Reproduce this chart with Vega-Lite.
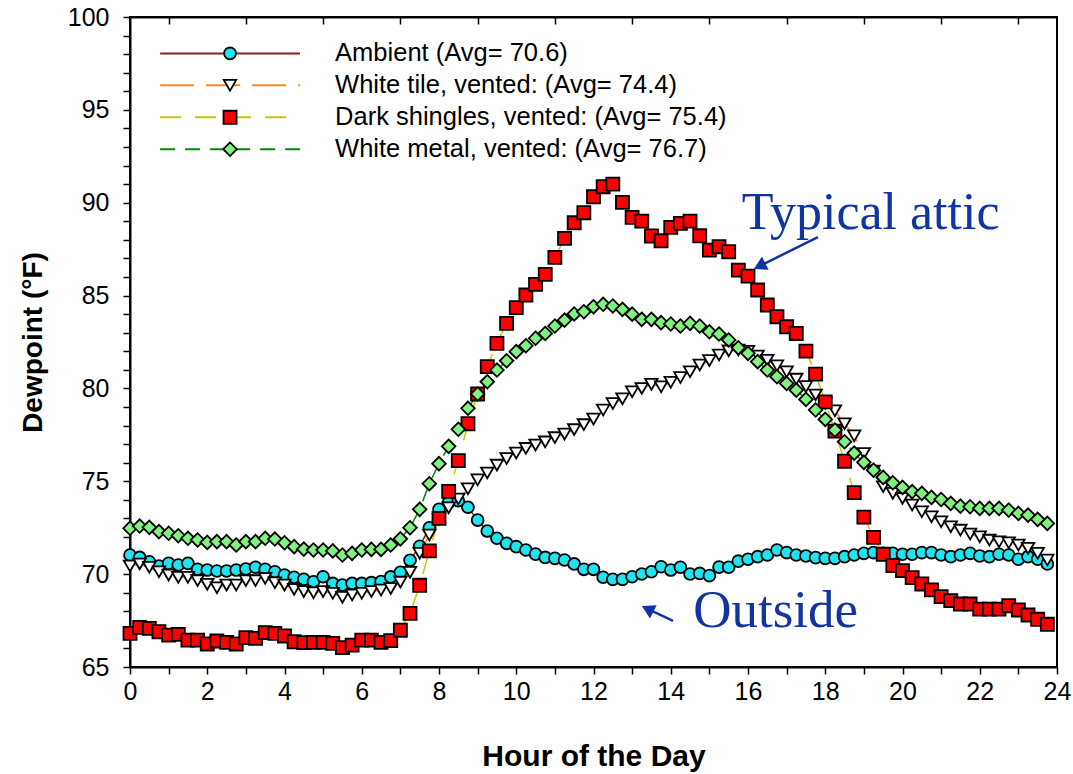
{
  "$schema": "https://vega.github.io/schema/vega-lite/v6.json",
  "autosize": "none",
  "width": 927,
  "height": 650,
  "padding": {"left": 130, "top": 17, "right": 16, "bottom": 107},
  "background": "white",
  "config": {"view": {"stroke": "black", "strokeWidth": 2}, "font": "Liberation Sans"},
  "resolve": {"axis": {"x": "independent", "y": "independent"}},
  "datasets": {
    "legend": [
      {"series": "Ambient", "label": "Ambient (Avg= 70.6)", "dewpoint": 98.04},
      {"series": "White tile", "label": "White tile, vented: (Avg= 74.4)", "dewpoint": 96.32},
      {"series": "Dark shingles", "label": "Dark shingles, vented: (Avg= 75.4)", "dewpoint": 94.6},
      {"series": "White metal", "label": "White metal, vented: (Avg= 76.7)", "dewpoint": 92.88}
    ],
    "dew": [
{"series":"Ambient","hour":0,"dewpoint":71.03},{"series":"Ambient","hour":0.25,"dewpoint":70.90},{"series":"Ambient","hour":0.5,"dewpoint":70.67},{"series":"Ambient","hour":0.75,"dewpoint":70.44},
{"series":"Ambient","hour":1,"dewpoint":70.58},{"series":"Ambient","hour":1.25,"dewpoint":70.49},{"series":"Ambient","hour":1.5,"dewpoint":70.58},{"series":"Ambient","hour":1.75,"dewpoint":70.26},
{"series":"Ambient","hour":2,"dewpoint":70.22},{"series":"Ambient","hour":2.25,"dewpoint":70.17},{"series":"Ambient","hour":2.5,"dewpoint":70.17},{"series":"Ambient","hour":2.75,"dewpoint":70.22},
{"series":"Ambient","hour":3,"dewpoint":70.28},{"series":"Ambient","hour":3.25,"dewpoint":70.37},{"series":"Ambient","hour":3.5,"dewpoint":70.26},{"series":"Ambient","hour":3.75,"dewpoint":70.13},
{"series":"Ambient","hour":4,"dewpoint":69.95},{"series":"Ambient","hour":4.25,"dewpoint":69.83},{"series":"Ambient","hour":4.5,"dewpoint":69.72},{"series":"Ambient","hour":4.75,"dewpoint":69.59},
{"series":"Ambient","hour":5,"dewpoint":69.86},{"series":"Ambient","hour":5.25,"dewpoint":69.50},{"series":"Ambient","hour":5.5,"dewpoint":69.41},{"series":"Ambient","hour":5.75,"dewpoint":69.50},
{"series":"Ambient","hour":6,"dewpoint":69.50},{"series":"Ambient","hour":6.25,"dewpoint":69.54},{"series":"Ambient","hour":6.5,"dewpoint":69.60},{"series":"Ambient","hour":6.75,"dewpoint":69.85},
{"series":"Ambient","hour":7,"dewpoint":70.10},{"series":"Ambient","hour":7.25,"dewpoint":70.75},{"series":"Ambient","hour":7.5,"dewpoint":71.50},{"series":"Ambient","hour":7.75,"dewpoint":72.50},
{"series":"Ambient","hour":8,"dewpoint":73.49},{"series":"Ambient","hour":8.25,"dewpoint":73.85},{"series":"Ambient","hour":8.5,"dewpoint":73.95},{"series":"Ambient","hour":8.75,"dewpoint":73.60},
{"series":"Ambient","hour":9,"dewpoint":72.91},{"series":"Ambient","hour":9.25,"dewpoint":72.32},{"series":"Ambient","hour":9.5,"dewpoint":71.93},{"series":"Ambient","hour":9.75,"dewpoint":71.66},
{"series":"Ambient","hour":10,"dewpoint":71.48},{"series":"Ambient","hour":10.25,"dewpoint":71.30},{"series":"Ambient","hour":10.5,"dewpoint":71.08},{"series":"Ambient","hour":10.75,"dewpoint":70.90},
{"series":"Ambient","hour":11,"dewpoint":70.85},{"series":"Ambient","hour":11.25,"dewpoint":70.76},{"series":"Ambient","hour":11.5,"dewpoint":70.55},{"series":"Ambient","hour":11.75,"dewpoint":70.26},
{"series":"Ambient","hour":12,"dewpoint":70.26},{"series":"Ambient","hour":12.25,"dewpoint":69.83},{"series":"Ambient","hour":12.5,"dewpoint":69.72},{"series":"Ambient","hour":12.75,"dewpoint":69.72},
{"series":"Ambient","hour":13,"dewpoint":69.86},{"series":"Ambient","hour":13.25,"dewpoint":70.01},{"series":"Ambient","hour":13.5,"dewpoint":70.13},{"series":"Ambient","hour":13.75,"dewpoint":70.40},
{"series":"Ambient","hour":14,"dewpoint":70.22},{"series":"Ambient","hour":14.25,"dewpoint":70.37},{"series":"Ambient","hour":14.5,"dewpoint":70.01},{"series":"Ambient","hour":14.75,"dewpoint":70.04},
{"series":"Ambient","hour":15,"dewpoint":69.92},{"series":"Ambient","hour":15.25,"dewpoint":70.38},{"series":"Ambient","hour":15.5,"dewpoint":70.37},{"series":"Ambient","hour":15.75,"dewpoint":70.70},
{"series":"Ambient","hour":16,"dewpoint":70.80},{"series":"Ambient","hour":16.25,"dewpoint":70.94},{"series":"Ambient","hour":16.5,"dewpoint":71.03},{"series":"Ambient","hour":16.75,"dewpoint":71.30},
{"series":"Ambient","hour":17,"dewpoint":71.16},{"series":"Ambient","hour":17.25,"dewpoint":71.03},{"series":"Ambient","hour":17.5,"dewpoint":70.98},{"series":"Ambient","hour":17.75,"dewpoint":70.89},
{"series":"Ambient","hour":18,"dewpoint":70.85},{"series":"Ambient","hour":18.25,"dewpoint":70.85},{"series":"Ambient","hour":18.5,"dewpoint":70.94},{"series":"Ambient","hour":18.75,"dewpoint":71.03},
{"series":"Ambient","hour":19,"dewpoint":71.12},{"series":"Ambient","hour":19.25,"dewpoint":71.16},{"series":"Ambient","hour":19.5,"dewpoint":71.12},{"series":"Ambient","hour":19.75,"dewpoint":71.12},
{"series":"Ambient","hour":20,"dewpoint":71.07},{"series":"Ambient","hour":20.25,"dewpoint":71.07},{"series":"Ambient","hour":20.5,"dewpoint":71.16},{"series":"Ambient","hour":20.75,"dewpoint":71.16},
{"series":"Ambient","hour":21,"dewpoint":71.03},{"series":"Ambient","hour":21.25,"dewpoint":70.94},{"series":"Ambient","hour":21.5,"dewpoint":71.03},{"series":"Ambient","hour":21.75,"dewpoint":71.12},
{"series":"Ambient","hour":22,"dewpoint":70.98},{"series":"Ambient","hour":22.25,"dewpoint":70.94},{"series":"Ambient","hour":22.5,"dewpoint":71.07},{"series":"Ambient","hour":22.75,"dewpoint":71.03},
{"series":"Ambient","hour":23,"dewpoint":70.80},{"series":"Ambient","hour":23.25,"dewpoint":70.94},{"series":"Ambient","hour":23.5,"dewpoint":70.80},{"series":"Ambient","hour":23.75,"dewpoint":70.55},
{"series":"White tile","hour":0,"dewpoint":70.44},{"series":"White tile","hour":0.25,"dewpoint":70.55},{"series":"White tile","hour":0.5,"dewpoint":70.37},{"series":"White tile","hour":0.75,"dewpoint":70.13},
{"series":"White tile","hour":1,"dewpoint":69.95},{"series":"White tile","hour":1.25,"dewpoint":69.83},{"series":"White tile","hour":1.5,"dewpoint":69.83},{"series":"White tile","hour":1.75,"dewpoint":69.65},
{"series":"White tile","hour":2,"dewpoint":69.45},{"series":"White tile","hour":2.25,"dewpoint":69.27},{"series":"White tile","hour":2.5,"dewpoint":69.41},{"series":"White tile","hour":2.75,"dewpoint":69.41},
{"series":"White tile","hour":3,"dewpoint":69.65},{"series":"White tile","hour":3.25,"dewpoint":69.65},{"series":"White tile","hour":3.5,"dewpoint":69.77},{"series":"White tile","hour":3.75,"dewpoint":69.54},
{"series":"White tile","hour":4,"dewpoint":69.41},{"series":"White tile","hour":4.25,"dewpoint":69.18},{"series":"White tile","hour":4.5,"dewpoint":69.06},{"series":"White tile","hour":4.75,"dewpoint":69.00},
{"series":"White tile","hour":5,"dewpoint":69.06},{"series":"White tile","hour":5.25,"dewpoint":68.97},{"series":"White tile","hour":5.5,"dewpoint":68.75},{"series":"White tile","hour":5.75,"dewpoint":68.88},
{"series":"White tile","hour":6,"dewpoint":68.97},{"series":"White tile","hour":6.25,"dewpoint":69.06},{"series":"White tile","hour":6.5,"dewpoint":69.14},{"series":"White tile","hour":6.75,"dewpoint":69.23},
{"series":"White tile","hour":7,"dewpoint":69.57},{"series":"White tile","hour":7.25,"dewpoint":70.10},{"series":"White tile","hour":7.5,"dewpoint":71.12},{"series":"White tile","hour":7.75,"dewpoint":72.11},
{"series":"White tile","hour":8,"dewpoint":72.95},{"series":"White tile","hour":8.25,"dewpoint":73.57},{"series":"White tile","hour":8.5,"dewpoint":74.05},{"series":"White tile","hour":8.75,"dewpoint":74.60},
{"series":"White tile","hour":9,"dewpoint":75.08},{"series":"White tile","hour":9.25,"dewpoint":75.45},{"series":"White tile","hour":9.5,"dewpoint":75.87},{"series":"White tile","hour":9.75,"dewpoint":76.23},
{"series":"White tile","hour":10,"dewpoint":76.52},{"series":"White tile","hour":10.25,"dewpoint":76.77},{"series":"White tile","hour":10.5,"dewpoint":76.95},{"series":"White tile","hour":10.75,"dewpoint":77.12},
{"series":"White tile","hour":11,"dewpoint":77.35},{"series":"White tile","hour":11.25,"dewpoint":77.54},{"series":"White tile","hour":11.5,"dewpoint":77.78},{"series":"White tile","hour":11.75,"dewpoint":78.05},
{"series":"White tile","hour":12,"dewpoint":78.35},{"series":"White tile","hour":12.25,"dewpoint":78.84},{"series":"White tile","hour":12.5,"dewpoint":79.19},{"series":"White tile","hour":12.75,"dewpoint":79.44},
{"series":"White tile","hour":13,"dewpoint":79.82},{"series":"White tile","hour":13.25,"dewpoint":80.00},{"series":"White tile","hour":13.5,"dewpoint":80.22},{"series":"White tile","hour":13.75,"dewpoint":80.09},
{"series":"White tile","hour":14,"dewpoint":80.33},{"series":"White tile","hour":14.25,"dewpoint":80.59},{"series":"White tile","hour":14.5,"dewpoint":80.90},{"series":"White tile","hour":14.75,"dewpoint":81.26},
{"series":"White tile","hour":15,"dewpoint":81.50},{"series":"White tile","hour":15.25,"dewpoint":81.80},{"series":"White tile","hour":15.5,"dewpoint":82.02},{"series":"White tile","hour":15.75,"dewpoint":82.07},
{"series":"White tile","hour":16,"dewpoint":82.00},{"series":"White tile","hour":16.25,"dewpoint":81.75},{"series":"White tile","hour":16.5,"dewpoint":81.52},{"series":"White tile","hour":16.75,"dewpoint":81.22},
{"series":"White tile","hour":17,"dewpoint":80.90},{"series":"White tile","hour":17.25,"dewpoint":80.50},{"series":"White tile","hour":17.5,"dewpoint":80.10},{"series":"White tile","hour":17.75,"dewpoint":79.65},
{"series":"White tile","hour":18,"dewpoint":79.20},{"series":"White tile","hour":18.25,"dewpoint":78.80},{"series":"White tile","hour":18.5,"dewpoint":78.10},{"series":"White tile","hour":18.75,"dewpoint":77.45},
{"series":"White tile","hour":19,"dewpoint":76.50},{"series":"White tile","hour":19.25,"dewpoint":75.55},{"series":"White tile","hour":19.5,"dewpoint":74.71},{"series":"White tile","hour":19.75,"dewpoint":74.35},
{"series":"White tile","hour":20,"dewpoint":74.08},{"series":"White tile","hour":20.25,"dewpoint":73.72},{"series":"White tile","hour":20.5,"dewpoint":73.36},{"series":"White tile","hour":20.75,"dewpoint":73.09},
{"series":"White tile","hour":21,"dewpoint":72.82},{"series":"White tile","hour":21.25,"dewpoint":72.55},{"series":"White tile","hour":21.5,"dewpoint":72.37},{"series":"White tile","hour":21.75,"dewpoint":72.16},
{"series":"White tile","hour":22,"dewpoint":72.01},{"series":"White tile","hour":22.25,"dewpoint":71.83},{"series":"White tile","hour":22.5,"dewpoint":71.74},{"series":"White tile","hour":22.75,"dewpoint":71.69},
{"series":"White tile","hour":23,"dewpoint":71.57},{"series":"White tile","hour":23.25,"dewpoint":71.39},{"series":"White tile","hour":23.5,"dewpoint":71.12},{"series":"White tile","hour":23.75,"dewpoint":70.76},
{"series":"Dark shingles","hour":0,"dewpoint":66.81},{"series":"Dark shingles","hour":0.25,"dewpoint":67.13},{"series":"Dark shingles","hour":0.5,"dewpoint":67.08},{"series":"Dark shingles","hour":0.75,"dewpoint":66.90},
{"series":"Dark shingles","hour":1,"dewpoint":66.72},{"series":"Dark shingles","hour":1.25,"dewpoint":66.76},{"series":"Dark shingles","hour":1.5,"dewpoint":66.45},{"series":"Dark shingles","hour":1.75,"dewpoint":66.45},
{"series":"Dark shingles","hour":2,"dewpoint":66.24},{"series":"Dark shingles","hour":2.25,"dewpoint":66.40},{"series":"Dark shingles","hour":2.5,"dewpoint":66.33},{"series":"Dark shingles","hour":2.75,"dewpoint":66.24},
{"series":"Dark shingles","hour":3,"dewpoint":66.58},{"series":"Dark shingles","hour":3.25,"dewpoint":66.54},{"series":"Dark shingles","hour":3.5,"dewpoint":66.85},{"series":"Dark shingles","hour":3.75,"dewpoint":66.81},
{"series":"Dark shingles","hour":4,"dewpoint":66.67},{"series":"Dark shingles","hour":4.25,"dewpoint":66.36},{"series":"Dark shingles","hour":4.5,"dewpoint":66.31},{"series":"Dark shingles","hour":4.75,"dewpoint":66.33},
{"series":"Dark shingles","hour":5,"dewpoint":66.33},{"series":"Dark shingles","hour":5.25,"dewpoint":66.27},{"series":"Dark shingles","hour":5.5,"dewpoint":66.04},{"series":"Dark shingles","hour":5.75,"dewpoint":66.18},
{"series":"Dark shingles","hour":6,"dewpoint":66.45},{"series":"Dark shingles","hour":6.25,"dewpoint":66.45},{"series":"Dark shingles","hour":6.5,"dewpoint":66.33},{"series":"Dark shingles","hour":6.75,"dewpoint":66.42},
{"series":"Dark shingles","hour":7,"dewpoint":66.98},{"series":"Dark shingles","hour":7.25,"dewpoint":67.89},{"series":"Dark shingles","hour":7.5,"dewpoint":69.40},{"series":"Dark shingles","hour":7.75,"dewpoint":71.25},
{"series":"Dark shingles","hour":8,"dewpoint":73.00},{"series":"Dark shingles","hour":8.25,"dewpoint":74.46},{"series":"Dark shingles","hour":8.5,"dewpoint":76.11},{"series":"Dark shingles","hour":8.75,"dewpoint":78.10},
{"series":"Dark shingles","hour":9,"dewpoint":79.70},{"series":"Dark shingles","hour":9.25,"dewpoint":81.17},{"series":"Dark shingles","hour":9.5,"dewpoint":82.43},{"series":"Dark shingles","hour":9.75,"dewpoint":83.50},
{"series":"Dark shingles","hour":10,"dewpoint":84.35},{"series":"Dark shingles","hour":10.25,"dewpoint":85.03},{"series":"Dark shingles","hour":10.5,"dewpoint":85.60},{"series":"Dark shingles","hour":10.75,"dewpoint":86.14},
{"series":"Dark shingles","hour":11,"dewpoint":87.06},{"series":"Dark shingles","hour":11.25,"dewpoint":88.08},{"series":"Dark shingles","hour":11.5,"dewpoint":88.92},{"series":"Dark shingles","hour":11.75,"dewpoint":89.46},
{"series":"Dark shingles","hour":12,"dewpoint":90.32},{"series":"Dark shingles","hour":12.25,"dewpoint":90.86},{"series":"Dark shingles","hour":12.5,"dewpoint":91.00},{"series":"Dark shingles","hour":12.75,"dewpoint":90.02},
{"series":"Dark shingles","hour":13,"dewpoint":89.21},{"series":"Dark shingles","hour":13.25,"dewpoint":89.01},{"series":"Dark shingles","hour":13.5,"dewpoint":88.21},{"series":"Dark shingles","hour":13.75,"dewpoint":87.95},
{"series":"Dark shingles","hour":14,"dewpoint":88.67},{"series":"Dark shingles","hour":14.25,"dewpoint":88.89},{"series":"Dark shingles","hour":14.5,"dewpoint":89.01},{"series":"Dark shingles","hour":14.75,"dewpoint":88.22},
{"series":"Dark shingles","hour":15,"dewpoint":87.45},{"series":"Dark shingles","hour":15.25,"dewpoint":87.63},{"series":"Dark shingles","hour":15.5,"dewpoint":87.36},{"series":"Dark shingles","hour":15.75,"dewpoint":86.37},
{"series":"Dark shingles","hour":16,"dewpoint":86.05},{"series":"Dark shingles","hour":16.25,"dewpoint":85.30},{"series":"Dark shingles","hour":16.5,"dewpoint":84.49},{"series":"Dark shingles","hour":16.75,"dewpoint":83.86},
{"series":"Dark shingles","hour":17,"dewpoint":83.32},{"series":"Dark shingles","hour":17.25,"dewpoint":82.96},{"series":"Dark shingles","hour":17.5,"dewpoint":82.01},{"series":"Dark shingles","hour":17.75,"dewpoint":80.77},
{"series":"Dark shingles","hour":18,"dewpoint":79.28},{"series":"Dark shingles","hour":18.25,"dewpoint":77.70},{"series":"Dark shingles","hour":18.5,"dewpoint":76.08},{"series":"Dark shingles","hour":18.75,"dewpoint":74.39},
{"series":"Dark shingles","hour":19,"dewpoint":73.07},{"series":"Dark shingles","hour":19.25,"dewpoint":71.98},{"series":"Dark shingles","hour":19.5,"dewpoint":71.07},{"series":"Dark shingles","hour":19.75,"dewpoint":70.46},
{"series":"Dark shingles","hour":20,"dewpoint":70.19},{"series":"Dark shingles","hour":20.25,"dewpoint":69.81},{"series":"Dark shingles","hour":20.5,"dewpoint":69.47},{"series":"Dark shingles","hour":20.75,"dewpoint":69.15},
{"series":"Dark shingles","hour":21,"dewpoint":68.79},{"series":"Dark shingles","hour":21.25,"dewpoint":68.57},{"series":"Dark shingles","hour":21.5,"dewpoint":68.39},{"series":"Dark shingles","hour":21.75,"dewpoint":68.39},
{"series":"Dark shingles","hour":22,"dewpoint":68.12},{"series":"Dark shingles","hour":22.25,"dewpoint":68.12},{"series":"Dark shingles","hour":22.5,"dewpoint":68.12},{"series":"Dark shingles","hour":22.75,"dewpoint":68.30},
{"series":"Dark shingles","hour":23,"dewpoint":68.07},{"series":"Dark shingles","hour":23.25,"dewpoint":67.80},{"series":"Dark shingles","hour":23.5,"dewpoint":67.57},{"series":"Dark shingles","hour":23.75,"dewpoint":67.30},
{"series":"White metal","hour":0,"dewpoint":72.47},{"series":"White metal","hour":0.25,"dewpoint":72.59},{"series":"White metal","hour":0.5,"dewpoint":72.52},{"series":"White metal","hour":0.75,"dewpoint":72.29},
{"series":"White metal","hour":1,"dewpoint":72.20},{"series":"White metal","hour":1.25,"dewpoint":72.07},{"series":"White metal","hour":1.5,"dewpoint":71.93},{"series":"White metal","hour":1.75,"dewpoint":71.84},
{"series":"White metal","hour":2,"dewpoint":71.71},{"series":"White metal","hour":2.25,"dewpoint":71.75},{"series":"White metal","hour":2.5,"dewpoint":71.75},{"series":"White metal","hour":2.75,"dewpoint":71.57},
{"series":"White metal","hour":3,"dewpoint":71.75},{"series":"White metal","hour":3.25,"dewpoint":71.75},{"series":"White metal","hour":3.5,"dewpoint":71.93},{"series":"White metal","hour":3.75,"dewpoint":71.89},
{"series":"White metal","hour":4,"dewpoint":71.69},{"series":"White metal","hour":4.25,"dewpoint":71.48},{"series":"White metal","hour":4.5,"dewpoint":71.35},{"series":"White metal","hour":4.75,"dewpoint":71.30},
{"series":"White metal","hour":5,"dewpoint":71.30},{"series":"White metal","hour":5.25,"dewpoint":71.25},{"series":"White metal","hour":5.5,"dewpoint":71.03},{"series":"White metal","hour":5.75,"dewpoint":71.12},
{"series":"White metal","hour":6,"dewpoint":71.30},{"series":"White metal","hour":6.25,"dewpoint":71.33},{"series":"White metal","hour":6.5,"dewpoint":71.33},{"series":"White metal","hour":6.75,"dewpoint":71.57},
{"series":"White metal","hour":7,"dewpoint":71.90},{"series":"White metal","hour":7.25,"dewpoint":72.50},{"series":"White metal","hour":7.5,"dewpoint":73.49},{"series":"White metal","hour":7.75,"dewpoint":74.87},
{"series":"White metal","hour":8,"dewpoint":75.95},{"series":"White metal","hour":8.25,"dewpoint":76.88},{"series":"White metal","hour":8.5,"dewpoint":77.80},{"series":"White metal","hour":8.75,"dewpoint":78.93},
{"series":"White metal","hour":9,"dewpoint":79.70},{"series":"White metal","hour":9.25,"dewpoint":80.36},{"series":"White metal","hour":9.5,"dewpoint":80.99},{"series":"White metal","hour":9.75,"dewpoint":81.49},
{"series":"White metal","hour":10,"dewpoint":81.98},{"series":"White metal","hour":10.25,"dewpoint":82.30},{"series":"White metal","hour":10.5,"dewpoint":82.70},{"series":"White metal","hour":10.75,"dewpoint":82.96},
{"series":"White metal","hour":11,"dewpoint":83.36},{"series":"White metal","hour":11.25,"dewpoint":83.68},{"series":"White metal","hour":11.5,"dewpoint":84.01},{"series":"White metal","hour":11.75,"dewpoint":84.13},
{"series":"White metal","hour":12,"dewpoint":84.40},{"series":"White metal","hour":12.25,"dewpoint":84.53},{"series":"White metal","hour":12.5,"dewpoint":84.44},{"series":"White metal","hour":12.75,"dewpoint":84.26},
{"series":"White metal","hour":13,"dewpoint":84.00},{"series":"White metal","hour":13.25,"dewpoint":83.72},{"series":"White metal","hour":13.5,"dewpoint":83.72},{"series":"White metal","hour":13.75,"dewpoint":83.54},
{"series":"White metal","hour":14,"dewpoint":83.47},{"series":"White metal","hour":14.25,"dewpoint":83.36},{"series":"White metal","hour":14.5,"dewpoint":83.50},{"series":"White metal","hour":14.75,"dewpoint":83.36},
{"series":"White metal","hour":15,"dewpoint":83.05},{"series":"White metal","hour":15.25,"dewpoint":82.93},{"series":"White metal","hour":15.5,"dewpoint":82.61},{"series":"White metal","hour":15.75,"dewpoint":82.19},
{"series":"White metal","hour":16,"dewpoint":81.89},{"series":"White metal","hour":16.25,"dewpoint":81.44},{"series":"White metal","hour":16.5,"dewpoint":80.99},{"series":"White metal","hour":16.75,"dewpoint":80.63},
{"series":"White metal","hour":17,"dewpoint":80.27},{"series":"White metal","hour":17.25,"dewpoint":79.91},{"series":"White metal","hour":17.5,"dewpoint":79.41},{"series":"White metal","hour":17.75,"dewpoint":78.84},
{"series":"White metal","hour":18,"dewpoint":78.33},{"series":"White metal","hour":18.25,"dewpoint":77.76},{"series":"White metal","hour":18.5,"dewpoint":77.13},{"series":"White metal","hour":18.75,"dewpoint":76.52},
{"series":"White metal","hour":19,"dewpoint":76.02},{"series":"White metal","hour":19.25,"dewpoint":75.60},{"series":"White metal","hour":19.5,"dewpoint":75.21},{"series":"White metal","hour":19.75,"dewpoint":74.92},
{"series":"White metal","hour":20,"dewpoint":74.67},{"series":"White metal","hour":20.25,"dewpoint":74.44},{"series":"White metal","hour":20.5,"dewpoint":74.35},{"series":"White metal","hour":20.75,"dewpoint":74.13},
{"series":"White metal","hour":21,"dewpoint":74.02},{"series":"White metal","hour":21.25,"dewpoint":73.81},{"series":"White metal","hour":21.5,"dewpoint":73.66},{"series":"White metal","hour":21.75,"dewpoint":73.63},
{"series":"White metal","hour":22,"dewpoint":73.54},{"series":"White metal","hour":22.25,"dewpoint":73.54},{"series":"White metal","hour":22.5,"dewpoint":73.54},{"series":"White metal","hour":22.75,"dewpoint":73.45},
{"series":"White metal","hour":23,"dewpoint":73.27},{"series":"White metal","hour":23.25,"dewpoint":73.18},{"series":"White metal","hour":23.5,"dewpoint":72.95},{"series":"White metal","hour":23.75,"dewpoint":72.73}
    ]
  },
  "layer": [
    {
      "data": {"name": "dew"},
      "mark": {"type": "line", "strokeWidth": 1.5},
      "encoding": {
        "x": {"field": "hour", "type": "quantitative",
          "scale": {"domain": [0, 24], "nice": false, "zero": false},
          "axis": {"orient": "bottom", "values": [0,1,2,3,4,5,6,7,8,9,10,11,12,13,14,15,16,17,18,19,20,21,22,23,24],
            "labelExpr": "datum.value % 2 === 0 ? datum.label : ''",
            "tickSize": 7, "tickColor": "black", "tickWidth": 1.5,
            "domainColor": "black", "domainWidth": 2, "grid": false,
            "labelFont": "Liberation Sans", "labelFontSize": 25, "labelColor": "black", "labelPadding": 5,
            "labelFlush": false, "labelOverlap": false,
            "title": "Hour of the Day", "titleFont": "Liberation Sans", "titleFontSize": 30, "titleFontWeight": "bold",
            "titleColor": "black", "titlePadding": 37}},
        "y": {"field": "dewpoint", "type": "quantitative",
          "scale": {"domain": [65, 100], "nice": false, "zero": false},
          "axis": {"orient": "left", "values": [65,66,67,68,69,70,71,72,73,74,75,76,77,78,79,80,81,82,83,84,85,86,87,88,89,90,91,92,93,94,95,96,97,98,99,100],
            "labelExpr": "datum.value % 5 === 0 ? datum.label : ''",
            "tickSize": 7, "tickColor": "black", "tickWidth": 1.5,
            "domainColor": "black", "domainWidth": 2, "grid": false,
            "labelFont": "Liberation Sans", "labelFontSize": 25, "labelColor": "black", "labelPadding": 14,
            "labelFlush": false, "labelOverlap": false,
            "title": "Dewpoint (°F)", "titleFont": "Liberation Sans", "titleFontSize": 28, "titleFontWeight": "bold",
            "titleColor": "black", "titlePadding": 20}},
        "color": {"field": "series", "type": "nominal",
          "scale": {"domain": ["Ambient", "White tile", "Dark shingles", "White metal"], "range": ["#8f1d1d", "#ff8a1a", "#c8c800", "#008a00"]},
          "legend": null},
        "strokeDash": {"field": "series", "type": "nominal",
          "scale": {"domain": ["Ambient", "White tile", "Dark shingles", "White metal"], "range": [[1, 0], [34, 12], [21, 14], [15, 10]]},
          "legend": null}
      }
    },
    {
      "data": {"name": "dew"},
      "mark": {"type": "point", "filled": true, "stroke": "black", "strokeWidth": 1.8, "opacity": 1},
      "encoding": {
        "x": {"field": "hour", "type": "quantitative",
          "axis": {"orient": "top", "values": [1,3,5,7,9,11,13,15,17,19,21,23], "labels": false,
            "tickSize": -7, "tickColor": "black", "tickWidth": 1.5, "domainColor": "black", "domainWidth": 2,
            "grid": false, "title": null}},
        "y": {"field": "dewpoint", "type": "quantitative", "axis": null},
        "fill": {"field": "series", "type": "nominal",
          "scale": {"domain": ["Ambient", "White tile", "Dark shingles", "White metal"], "range": ["#1fe3ef", "#ffffff", "#ff0000", "#7ff27f"]},
          "legend": null},
        "shape": {"field": "series", "type": "nominal",
          "scale": {"domain": ["Ambient", "White tile", "Dark shingles", "White metal"], "range": ["circle", "triangle-down", "square", "diamond"]},
          "legend": null},
        "size": {"field": "series", "type": "ordinal",
          "scale": {"domain": ["Ambient", "White tile", "Dark shingles", "White metal"], "range": [140, 185, 160, 230]},
          "legend": null}
      }
    },
    {
      "data": {"name": "legend"},
      "mark": {"type": "rule", "strokeWidth": 2},
      "encoding": {
        "x": {"datum": 0.78, "type": "quantitative", "axis": null},
        "x2": {"datum": 4.4},
        "y": {"field": "dewpoint", "type": "quantitative", "axis": null},
        "color": {"field": "series", "type": "nominal", "legend": null},
        "strokeDash": {"field": "series", "type": "nominal", "legend": null}
      }
    },
    {
      "data": {"name": "legend"},
      "mark": {"type": "point", "filled": true, "stroke": "black", "strokeWidth": 1.8, "opacity": 1},
      "encoding": {
        "x": {"datum": 2.59, "type": "quantitative", "axis": null},
        "y": {"field": "dewpoint", "type": "quantitative", "axis": null},
        "fill": {"field": "series", "type": "nominal", "legend": null},
        "shape": {"field": "series", "type": "nominal", "legend": null},
        "size": {"field": "series", "type": "ordinal", "legend": null}
      }
    },
    {
      "data": {"name": "legend"},
      "mark": {"type": "text", "align": "left", "baseline": "middle", "font": "Liberation Sans", "fontSize": 25.5, "color": "black"},
      "encoding": {
        "x": {"datum": 5.31, "type": "quantitative", "axis": null},
        "y": {"field": "dewpoint", "type": "quantitative", "axis": null},
        "text": {"field": "label"}
      }
    },
    {
      "data": {"values": [{"note": "Typical attic"}]},
      "mark": {"type": "text", "align": "left", "baseline": "alphabetic", "font": "Liberation Serif", "fontSize": 52, "color": "#1034a0"},
      "encoding": {
        "x": {"datum": 15.84, "type": "quantitative", "axis": null},
        "y": {"datum": 88.58, "type": "quantitative", "axis": null},
        "text": {"field": "note"}
      }
    },
    {
      "data": {"values": [{"note": "Outside"}]},
      "mark": {"type": "text", "align": "left", "baseline": "alphabetic", "font": "Liberation Serif", "fontSize": 53, "color": "#1034a0"},
      "encoding": {
        "x": {"datum": 14.58, "type": "quantitative", "axis": null},
        "y": {"datum": 67.15, "type": "quantitative", "axis": null},
        "text": {"field": "note"}
      }
    },
    {
      "data": {"values": [{}]},
      "mark": {"type": "rule", "strokeWidth": 2.5, "color": "#1034a0"},
      "encoding": {
        "x": {"datum": 17.81, "type": "quantitative", "axis": null},
        "x2": {"datum": 16.3},
        "y": {"datum": 88.15, "type": "quantitative", "axis": null},
        "y2": {"datum": 86.59}
      }
    },
    {
      "data": {"values": [{}]},
      "mark": {"type": "rule", "strokeWidth": 2.5, "color": "#1034a0"},
      "encoding": {
        "x": {"datum": 14.06, "type": "quantitative", "axis": null},
        "x2": {"datum": 13.4},
        "y": {"datum": 67.48, "type": "quantitative", "axis": null},
        "y2": {"datum": 68.13}
      }
    },
    {
      "data": {"values": [{}]},
      "mark": {"type": "point", "shape": "triangle-up", "angle": 243, "size": 220, "filled": true, "color": "#1034a0", "opacity": 1},
      "encoding": {
        "x": {"datum": 16.3, "type": "quantitative", "axis": null},
        "y": {"datum": 86.59, "type": "quantitative", "axis": null}
      }
    },
    {
      "data": {"values": [{}]},
      "mark": {"type": "point", "shape": "triangle-up", "angle": 297, "size": 220, "filled": true, "color": "#1034a0", "opacity": 1},
      "encoding": {
        "x": {"datum": 13.4, "type": "quantitative", "axis": null},
        "y": {"datum": 68.13, "type": "quantitative", "axis": null}
      }
    }
  ]
}
